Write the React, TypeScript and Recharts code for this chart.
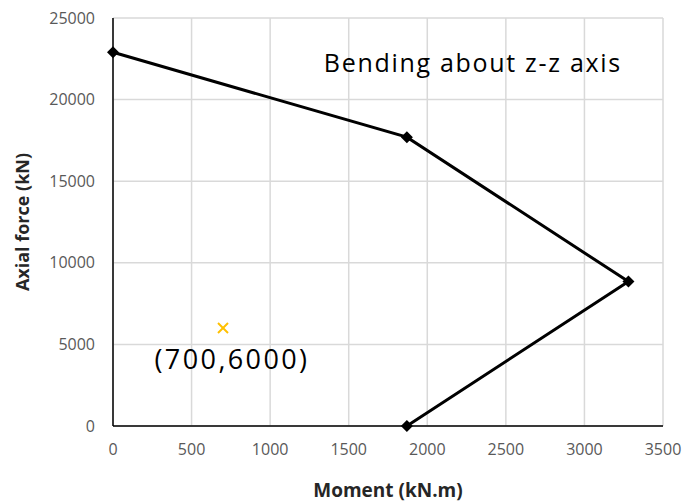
import React from 'react';
import {
  ScatterChart,
  Scatter,
  XAxis,
  YAxis,
  CartesianGrid,
  ReferenceDot,
} from 'recharts';

// interaction curve points (moment, axial force)
const moments = [0, 1870, 3280, 1870];
const axialForces = [22900, 17700, 8850, 0];

// design point
const loadMoment = [700];
const loadAxial = [6000];

const xTicks = [0, 500, 1000, 1500, 2000, 2500, 3000, 3500];
const yTicks = [0, 5000, 10000, 15000, 20000, 25000];

const curveData = moments.map((m, i) => ({ x: m, y: axialForces[i] }));
const loadData = loadMoment.map((m, i) => ({ x: m, y: loadAxial[i] }));

const FONT = '"Open Sans", "Noto Sans", sans-serif';

const Diamond = (props: any) => {
  const { cx, cy } = props;
  const s = 6;
  return (
    <polygon
      points={`${cx},${cy - s} ${cx + s},${cy} ${cx},${cy + s} ${cx - s},${cy}`}
      fill="#000"
    />
  );
};

const Cross = (props: any) => {
  const { cx, cy } = props;
  const s = 5;
  return (
    <g stroke="#FFC000" strokeWidth={2}>
      <line x1={cx - s} y1={cy - s} x2={cx + s} y2={cy + s} />
      <line x1={cx - s} y1={cy + s} x2={cx + s} y2={cy - s} />
    </g>
  );
};

function App() {
  return (
    <div style={{ position: 'absolute', left: 0, top: 0, fontFamily: FONT }}>
      <ScatterChart
        width={686}
        height={502}
        margin={{ top: 18, right: 23, bottom: 0, left: 0 }}
      >
        <CartesianGrid stroke="#d9d9d9" strokeWidth={1.5} />
        <XAxis
          type="number"
          dataKey="x"
          domain={[0, 3500]}
          ticks={xTicks}
          height={76}
          tickLine={false}
          tickSize={0}
          tickMargin={18}
          axisLine={{ stroke: '#000', strokeWidth: 1.5 }}
          tick={{ fill: '#595959', fontSize: 16, fontFamily: FONT }}
          label={{
            value: 'Moment (kN.m)',
            position: 'insideBottom',
            offset: 5,
            fill: '#262626',
            fontSize: 19,
            fontWeight: 'bold',
            fontFamily: FONT,
          }}
        />
        <YAxis
          type="number"
          dataKey="y"
          domain={[0, 25000]}
          ticks={yTicks}
          width={113}
          tickLine={false}
          tickSize={0}
          tickMargin={18}
          axisLine={{ stroke: '#000', strokeWidth: 1.5 }}
          tick={{ fill: '#595959', fontSize: 16, fontFamily: FONT }}
          label={{
            value: 'Axial force (kN)',
            angle: -90,
            position: 'insideLeft',
            offset: 23,
            fill: '#262626',
            fontSize: 18,
            fontWeight: 'bold',
            fontFamily: FONT,
            style: { textAnchor: 'middle' },
          }}
        />
        <Scatter
          data={curveData}
          line={{ stroke: '#000', strokeWidth: 3 }}
          lineType="joint"
          shape={<Diamond />}
          isAnimationActive={false}
        />
        <Scatter data={loadData} shape={<Cross />} isAnimationActive={false} />
        <ReferenceDot
          x={loadMoment[0]}
          y={loadAxial[0]}
          r={0}
          label={(p: any) => (
            <text
              x={p.viewBox.x + 9}
              y={p.viewBox.y + 41}
              textAnchor="middle"
              fontSize={27}
              letterSpacing={2.4}
              fontFamily={FONT}
              fill="#000"
            >
              (700,6000)
            </text>
          )}
        />
        <ReferenceDot
          x={2290}
          y={22000}
          r={0}
          label={(p: any) => (
            <text
              x={p.viewBox.x}
              y={p.viewBox.y + 5}
              textAnchor="middle"
              fontSize={25}
              letterSpacing={1.7}
              fontFamily={FONT}
              fill="#000"
            >
              Bending about z-z axis
            </text>
          )}
        />
      </ScatterChart>
    </div>
  );
}

export default App;
